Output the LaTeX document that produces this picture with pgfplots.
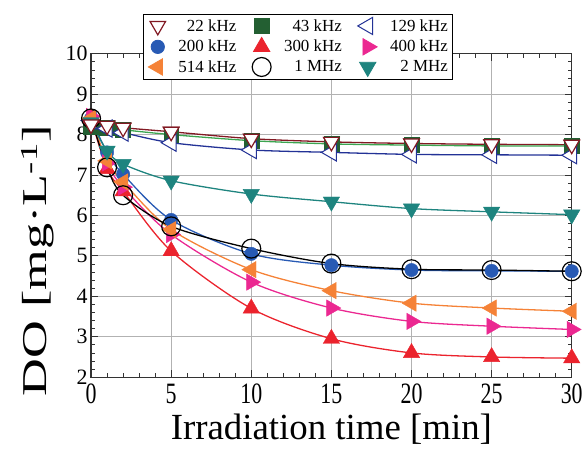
\documentclass[border=0pt]{standalone}
\usepackage{fontspec}
\setmainfont{Liberation Serif}
\usepackage{graphicx}
\usepackage{pgfplots}
\usepackage{pgfplotstable}
\pgfplotsset{compat=1.18}

\definecolor{c22}{RGB}{130,25,35}
\definecolor{c43}{RGB}{35,95,50}
\definecolor{c43l}{RGB}{60,165,80}
\definecolor{c129}{RGB}{35,50,150}
\definecolor{c200}{RGB}{40,90,180}
\definecolor{c300}{RGB}{235,35,45}
\definecolor{c400}{RGB}{235,40,145}
\definecolor{c514}{RGB}{245,130,55}
\definecolor{c2M}{RGB}{30,132,127}

% DO [mg/L] vs irradiation time [min]
\pgfplotstableread{
t   f22   f43   f129  f200  f300  f400  f514  f1M   f2M
0   8.25  8.20  8.35  8.40  8.40  8.45  8.40  8.40  8.30
1   8.22  8.18  8.15  7.56  7.15  7.30  7.35  7.19  7.60
2   8.17  8.12  8.05  7.02  6.60  6.70  6.83  6.50  7.27
5   8.07  8.00  7.80  5.89  5.12  5.53  5.65  5.73  6.86
10  7.90  7.85  7.62  5.05  3.70  4.35  4.66  5.18  6.53
15  7.82  7.77  7.56  4.77  2.95  3.71  4.14  4.81  6.34
20  7.78  7.74  7.51  4.65  2.60  3.38  3.83  4.67  6.17
25  7.76  7.72  7.50  4.63  2.50  3.26  3.71  4.65  6.09
30  7.75  7.72  7.49  4.62  2.47  3.18  3.63  4.62  6.02
}\data

\pgfplotsset{
    lm/.style={only marks,
        legend image code/.code={\draw[mark repeat=2,mark phase=2,##1]
            plot coordinates {(0pt,0pt) (15pt,0pt) (24pt,0pt)};}},
    crv/.style={line width=1.3pt, smooth, forget plot},
}

\begin{document}
\begin{tikzpicture}
\begin{axis}[
    scale only axis,
    width=483pt, height=325pt,
    xmin=0, xmax=30, ymin=2, ymax=10,
    xtick={0,5,...,30}, ytick={2,3,...,10},
    minor x tick num=4, minor y tick num=4,
    tick align=inside,
    major tick length=7pt, minor tick length=4pt,
    every tick/.style={black!80, line width=0.8pt},
    grid=major,
    major grid style={black!30, line width=0.9pt},
    axis line style={black!80, line width=1.3pt},
    /pgf/number format/assume math mode=true,
    xticklabel={\scalebox{1}[1.35]{\pgfmathprintnumber{\tick}}},
    yticklabel={\pgfmathprintnumber{\tick}},
    ticklabel style={font=\rmfamily\fontsize{22}{22}\selectfont},
    xticklabel style={yshift=-3pt},
    yticklabel style={xshift=0pt},
    xlabel={Irradiation time [min]},
    ylabel={\scalebox{1.5}[1]{DO [mg·L\textsuperscript{-1}]}},
    xlabel style={font=\fontsize{37}{37}\selectfont, yshift=-4pt},
    ylabel style={font=\fontsize{35}{35}\selectfont, at={(ticklabel cs:0.36)}},
    ylabel shift=5pt,
    legend columns=3,
    legend cell align=right,
    legend style={at={(0.108,1.123)}, anchor=north west,
        font=\fontsize{17}{18}\selectfont, draw=black, line width=0.8pt,
        fill=white, inner xsep=5pt, inner ysep=3pt, row sep=2.5pt,
        nodes={inner sep=0pt},
        /tikz/every odd column/.append style={column sep=13pt},
        /tikz/every even column/.append style={column sep=16pt}},
]
% curves
\addplot[c22, crv] table[x=t,y=f22]{\data};
\addplot[c43l, crv] table[x=t,y=f43]{\data};
\addplot[c129, crv] table[x=t,y=f129]{\data};
\addplot[c200, crv] table[x=t,y=f200]{\data};
\addplot[c300, crv] table[x=t,y=f300]{\data};
\addplot[c400, crv] table[x=t,y=f400]{\data};
\addplot[c514, crv] table[x=t,y=f514]{\data};
\addplot[black, crv] table[x=t,y=f1M]{\data};
\addplot[c2M, crv] table[x=t,y=f2M]{\data};
% markers
\addplot[lm, mark=triangle*, mark size=9pt,
    mark options={rotate=180, draw=c22, fill=white, line width=1.2pt}] table[x=t,y=f22]{\data};
\addlegendentry{22 kHz}
\addplot[lm, mark=square*, mark size=7.5pt,
    mark options={draw=c43, fill=c43}] table[x=t,y=f43]{\data};
\addlegendentry{43 kHz}
\addplot[lm, mark=triangle*, mark size=10pt,
    mark options={rotate=90, draw=c129, fill=white, line width=1pt}] table[x=t,y=f129]{\data};
\addlegendentry{129 kHz}
\addplot[lm, mark=*, mark size=6.7pt,
    mark options={draw=c200, fill=c200}] table[x=t,y=f200]{\data};
\addlegendentry{200 kHz}
\addplot[lm, mark=triangle*, mark size=9.5pt,
    mark options={draw=c300, fill=c300}] table[x=t,y=f300]{\data};
\addlegendentry{300 kHz}
\addplot[lm, mark=triangle*, mark size=9.5pt,
    mark options={rotate=-90, draw=c400, fill=c400}] table[x=t,y=f400]{\data};
\addlegendentry{400 kHz}
\addplot[lm, mark=triangle*, mark size=9.5pt,
    mark options={rotate=90, draw=c514, fill=c514}] table[x=t,y=f514]{\data};
\addlegendentry{514 kHz}
\addplot[lm, mark=o, mark size=9.5pt,
    mark options={draw=black, line width=1.2pt}] table[x=t,y=f1M]{\data};
\addlegendentry{1 MHz}
\addplot[lm, mark=triangle*, mark size=9.5pt,
    mark options={rotate=180, draw=c2M, fill=c2M}] table[x=t,y=f2M]{\data};
\addlegendentry{2 MHz}
% 22 kHz triangles sit on top of the 43 kHz squares
\addplot[only marks, mark=triangle*, mark size=9pt, forget plot,
    mark options={rotate=180, draw=c22, fill=white, line width=1.2pt}] table[x=t,y=f22]{\data};
\end{axis}
\path (current axis.outer south west) ++(-18pt,0pt);
\path (current axis.north) ++(0pt,54pt);
\end{tikzpicture}
\end{document}
